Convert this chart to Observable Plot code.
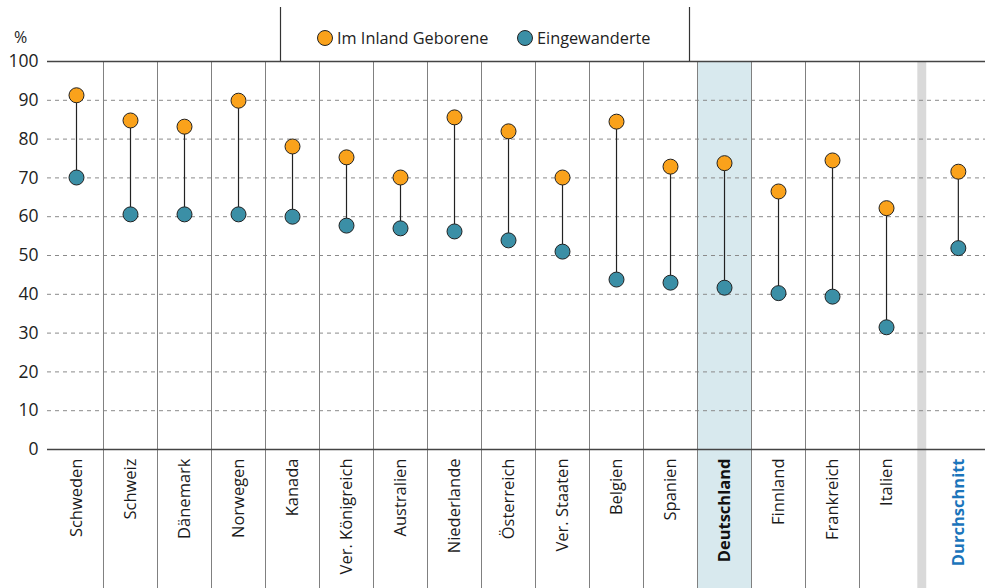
<!DOCTYPE html>
<html>
<head>
<meta charset="utf-8">
<script src="https://cdn.jsdelivr.net/npm/d3@7"></script>
<script src="https://cdn.jsdelivr.net/npm/@observablehq/plot@0.6"></script>
<style>
  html, body { margin: 0; padding: 0; background: #fff; }
  #chart svg { display: block; }
</style>
</head>
<body>
<div id="chart"></div>
<script>
const countries = ["Schweden","Schweiz","Dänemark","Norwegen","Kanada","Ver. Königreich","Australien","Niederlande","Österreich","Ver. Staaten","Belgien","Spanien","Deutschland","Finnland","Frankreich","Italien","Durchschnitt"];
const nativeBorn = [91.3, 84.8, 83.2, 89.9, 78.1, 75.3, 70.1, 85.6, 82.0, 70.1, 84.5, 72.9, 73.8, 66.5, 74.5, 62.2, 71.6];
const immigrants = [70.1, 60.6, 60.6, 60.6, 60.0, 57.7, 57.0, 56.2, 53.9, 51.0, 43.8, 43.0, 41.7, 40.3, 39.4, 31.5, 51.9];
const yTicks = [0,10,20,30,40,50,60,70,80,90,100];
const seriesNames = ["Im Inland Geborene", "Eingewanderte"];
const seriesColors = ["#faa21b", "#3b8fa6"];

const avgGap = 0.33;
const data = countries.map((c, i) => ({
  country: c,
  pos: i < countries.length - 1 ? i : i + avgGap,
  native: nativeBorn[i],
  immigrant: immigrants[i]
}));
const separators = d3.range(0, countries.length - 2).map(i => i + 0.5);
const highlight = data.filter(d => d.country === "Deutschland");
const avg = data.filter(d => d.country === "Durchschnitt");
const normalLabels = data.filter(d => d.country !== "Deutschland" && d.country !== "Durchschnitt");
const yBottom = -36;

const font = "'Open Sans', sans-serif";
const labelOpts = { x: "pos", y: 0, text: "country", rotate: -90, textAnchor: "end", dy: 9, fontSize: 16.5, lineAnchor: "middle" };

const plot = Plot.plot({
  width: 985,
  height: 588,
  marginLeft: 47,
  marginRight: 0,
  marginTop: 61,
  marginBottom: 139,
  style: { fontFamily: font, background: "#fff", overflow: "visible" },
  x: { type: "linear", domain: [-0.537, 16.833], axis: null },
  y: { domain: [0, 100], axis: null },
  marks: [
    Plot.rect(highlight, { x1: d => d.pos - 0.5, x2: d => d.pos + 0.5, y1: 100, y2: yBottom, fill: "#d8e9ee" }),
    Plot.rect(avg, { x1: d => d.pos - 0.75, x2: d => d.pos - 0.585, y1: 100, y2: yBottom, fill: "#d9d9d9" }),
    Plot.ruleY(yTicks.filter(t => t > 0 && t < 100), { stroke: "#8a8a8a", strokeDasharray: "4,4", strokeWidth: 1 }),
    Plot.ruleX(separators, { y1: 100, y2: yBottom, stroke: "#808080", strokeWidth: 1 }),
    Plot.ruleY([0, 100], { stroke: "#444", strokeWidth: 1.5 }),
    Plot.ruleX(data, { x: "pos", y1: "native", y2: "immigrant", stroke: "#222", strokeWidth: 1.2 }),
    Plot.dot(data, { x: "pos", y: "native", r: 7.5, fill: seriesColors[0], stroke: "#222", strokeWidth: 1 }),
    Plot.dot(data, { x: "pos", y: "immigrant", r: 7.5, fill: seriesColors[1], stroke: "#222", strokeWidth: 1 }),
    Plot.axisY(yTicks, { tickSize: 0, tickPadding: 9, fontSize: 17.5, fill: "#222", textAnchor: "end" }),
    Plot.text(normalLabels, { ...labelOpts, fill: "#1a1a1a" }),
    Plot.text(highlight, { ...labelOpts, fill: "#111", fontWeight: "bold" }),
    Plot.text(avg, { ...labelOpts, fill: "#1b75bb", fontWeight: "bold" }),
    Plot.text(["%"], { frameAnchor: "top-left", dx: -27, dy: -24, fontSize: 16, fill: "#222", textAnchor: "middle", lineAnchor: "middle" })
  ]
});

document.getElementById("chart").appendChild(plot);

// legend in the header area
const svg = d3.select(plot);
const lg = svg.append("g").attr("font-family", font).attr("font-size", 16.3).attr("text-anchor", "start");
lg.append("line").attr("x1", 280.5).attr("x2", 280.5).attr("y1", 7).attr("y2", 61).attr("stroke", "#333").attr("stroke-width", 1.2);
lg.append("line").attr("x1", 689.5).attr("x2", 689.5).attr("y1", 7).attr("y2", 61).attr("stroke", "#333").attr("stroke-width", 1.2);
const legendX = [325, 525];
seriesNames.forEach((name, i) => {
  lg.append("circle").attr("cx", legendX[i]).attr("cy", 38).attr("r", 7.5).attr("fill", seriesColors[i]).attr("stroke", "#222");
  lg.append("text").attr("x", legendX[i] + 12).attr("y", 38).attr("dy", "0.35em").attr("text-anchor", "start").attr("fill", "#222").text(name);
});
</script>
</body>
</html>
